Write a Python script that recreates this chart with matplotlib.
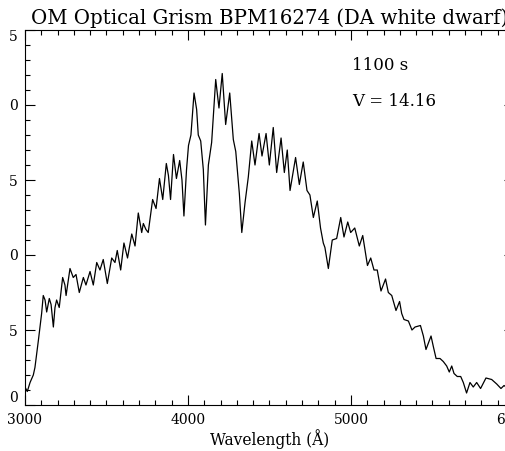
import numpy as np
import matplotlib
matplotlib.use("Agg")
import matplotlib.pyplot as plt
from matplotlib.ticker import MultipleLocator

# ---------------------------------------------------------
# DATA
# ---------------------------------------------------------
wavelength = [
    3000, 3014, 3031, 3051, 3061, 3082, 3102, 3112, 3123, 3133,
    3149, 3160, 3174, 3184, 3194, 3210, 3231, 3245, 3252, 3276,
    3296, 3313, 3333, 3358, 3374, 3399, 3419, 3440, 3460, 3480,
    3505, 3532, 3552, 3566, 3587, 3607, 3629, 3655, 3675, 3695,
    3716, 3726, 3742, 3756, 3783, 3804, 3825, 3845, 3867, 3880,
    3893, 3911, 3929, 3949, 3963, 3975, 3991, 4003, 4018, 4037,
    4053, 4063, 4078, 4094, 4107, 4125, 4145, 4170, 4190, 4210,
    4231, 4256, 4278, 4293, 4315, 4330, 4350, 4370, 4391, 4411,
    4436, 4454, 4479, 4499, 4523, 4544, 4571, 4591, 4609, 4626,
    4660, 4683, 4707, 4730, 4748, 4769, 4793, 4813, 4830, 4840,
    4861, 4885, 4912, 4937, 4957, 4980, 4998, 5023, 5051, 5072,
    5101, 5121, 5141, 5161, 5184, 5212, 5229, 5250, 5276, 5298,
    5311, 5325, 5352, 5374, 5393, 5426, 5444, 5460, 5491, 5505,
    5522, 5546, 5566, 5587, 5603, 5618, 5632, 5652, 5673, 5689,
    5709, 5730, 5750, 5771, 5795, 5828, 5863, 5894, 5920, 5939,
    5951,
]
flux = [
    1.2, 0.9, 1.5, 2.0, 2.5, 4.3, 6.1, 7.3, 7.0, 6.2,
    7.1, 6.7, 5.2, 6.5, 7.0, 6.5, 8.5, 8.0, 7.3, 9.1,
    8.5, 8.7, 7.5, 8.5, 8.0, 8.9, 8.0, 9.5, 9.0, 9.7,
    8.1, 9.8, 9.5, 10.3, 9.0, 10.8, 9.8, 11.4, 10.6, 12.8,
    11.5, 12.1, 11.7, 11.5, 13.7, 13.1, 15.1, 13.7, 16.1, 15.3,
    13.7, 16.7, 15.1, 16.3, 15.0, 12.6, 15.7, 17.3, 18.0, 20.8,
    19.7, 18.0, 17.6, 15.7, 12.0, 16.0, 17.5, 21.7, 19.8, 22.1,
    18.7, 20.8, 17.7, 16.9, 14.1, 11.5, 13.5, 15.2, 17.6, 16.0,
    18.1, 16.6, 18.1, 16.0, 18.5, 15.5, 17.8, 15.5, 17.0, 14.3,
    16.5, 14.7, 16.2, 14.3, 14.0, 12.5, 13.6, 11.8, 10.8, 10.5,
    9.1, 11.0, 11.1, 12.5, 11.2, 12.2, 11.5, 11.8, 10.6, 11.3,
    9.3, 9.8, 9.0, 9.0, 7.6, 8.4, 7.5, 7.3, 6.3, 6.9,
    6.1, 5.7, 5.6, 5.0, 5.2, 5.3, 4.6, 3.7, 4.6, 3.9,
    3.1, 3.1, 2.9, 2.6, 2.2, 2.6, 2.1, 1.9, 1.9, 1.5,
    0.8, 1.5, 1.2, 1.5, 1.1, 1.8, 1.7, 1.4, 1.1, 1.3,
    1.2,
]

xticks = [3000, 4000, 5000, 6000]
xtick_labels = ["3000", "4000", "5000", "6000"]
yticks = [0, 5, 10, 15, 20, 25]
ytick_labels = ["0", "5", "0", "5", "0", "5"]

title = "OM Optical Grism BPM16274 (DA white dwarf)"
notes = ["1100 s", "V = 14.16"]

# ---------------------------------------------------------
# PLOT
# ---------------------------------------------------------
plt.rcParams["font.family"] = ["DejaVu Serif"]

fig = plt.figure(figsize=(5.06, 4.51), dpi=100)
ax = fig.add_axes([25 / 506, 46 / 451, 489 / 506, 375 / 451])

ax.plot(wavelength, flux, color="black", linewidth=0.9)

ax.set_xlim(3000, 6000)
ax.set_ylim(0, 25)

ax.set_xticks(xticks)
ax.set_xticklabels(xtick_labels)
ax.set_yticks(yticks)
ax.set_yticklabels(ytick_labels)
ax.xaxis.set_minor_locator(MultipleLocator(100))
ax.yaxis.set_minor_locator(MultipleLocator(1))

ax.tick_params(which="both", direction="in", top=True, right=True,
               width=0.8, colors="black")
ax.tick_params(which="major", length=7.2, labelsize=10)
ax.tick_params(which="minor", length=3.8)
ax.tick_params(axis="y", pad=5)
ax.tick_params(axis="x", pad=6)

# outer y labels sit inside the frame, as in the original
ylabs = ax.get_yticklabels()
ylabs[0].set_va("bottom")
ylabs[-1].set_va("top")

for s in ax.spines.values():
    s.set_linewidth(0.8)

ax.set_xlabel("Wavelength (Å)", fontsize=11.2, labelpad=1)
ax.set_title(title, fontsize=14.2, pad=4)

ax.text(5006, 22.6, notes[0], fontsize=12, va="center", ha="left")
ax.text(5006, 20.25, notes[1], fontsize=12, va="center", ha="left")

fig.savefig("out.png", dpi=100)
